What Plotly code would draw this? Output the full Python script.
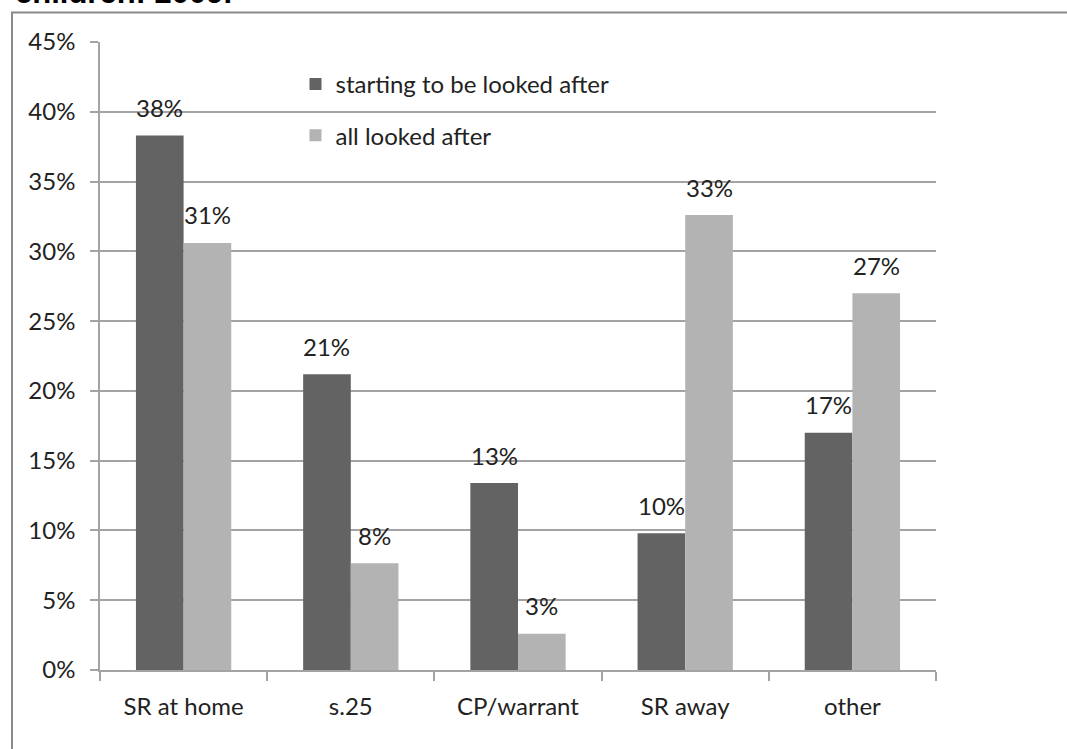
import plotly.graph_objects as go

categories = ["SR at home", "s.25", "CP/warrant", "SR away", "other"]
starting = [38.3, 21.2, 13.4, 9.8, 17.0]
all_looked_after = [30.6, 7.65, 2.6, 32.6, 27.0]
series_names = ["starting to be looked after", "all looked after"]
y_ticks = [0, 5, 10, 15, 20, 25, 30, 35, 40, 45]
title_text = "children: 2009."

DARK = "#636363"
LIGHT = "#b3b3b3"
GRID = "#a3a3a3"
TEXT = "#222222"
FONT = "Lato"
FS = 24

W, H = 1067, 749
L, R, T, B = 100, 131, 42, 79
PW, PH = W - L - R, H - T - B

fig = go.Figure()
fig.add_trace(go.Bar(x=categories, y=starting, name=series_names[0],
                     marker=dict(color=DARK, line=dict(width=0)),
                     legendgroup="a"))
fig.add_trace(go.Bar(x=categories, y=all_looked_after, name=series_names[1],
                     marker=dict(color=LIGHT, line=dict(width=0)),
                     legendgroup="b"))

bargap = 0.43
cat_px = PW / len(categories)
half_bar = cat_px * (1 - bargap) / 4

annotations = []
for vals, sh in ((starting, -half_bar), (all_looked_after, half_bar)):
    for c, v in zip(categories, vals):
        annotations.append(dict(x=c, y=v, xref="x", yref="y", text=f"{round(v)}%",
                                showarrow=False, xshift=sh, yshift=28,
                                yanchor="middle", xanchor="center",
                                font=dict(family=FONT, size=FS, color=TEXT)))

annotations.append(dict(x=(13 - L) / PW, y=(H - B - 12) / PH, xref="paper", yref="paper",
                        text=f"<b>{title_text}</b>", showarrow=False,
                        xanchor="left", yanchor="bottom",
                        font=dict(family="Liberation Sans, Arial", size=31, color="#000000")))

fig.update_layout(
    width=W, height=H,
    margin=dict(l=L, r=R, t=T, b=B),
    paper_bgcolor="white", plot_bgcolor="white",
    barmode="group", bargap=bargap, bargroupgap=0,
    font=dict(family=FONT, size=FS, color=TEXT),
    showlegend=True,
    legend=dict(x=(295.5 - L) / PW, y=(H - B - 62) / PH, xanchor="left", yanchor="top",
                bgcolor="rgba(0,0,0,0)", font=dict(family=FONT, size=FS, color=TEXT),
                tracegroupgap=17, traceorder="grouped"),
    annotations=annotations,
    shapes=[dict(type="rect", xref="paper", yref="paper",
                 x0=(12 - L) / PW, x1=1.3, y0=-0.3, y1=(H - B - 12.5) / PH,
                 line=dict(color="#8a8a8a", width=2), fillcolor="rgba(0,0,0,0)",
                 layer="below")],
)
fig.update_xaxes(showline=True, linecolor=GRID, linewidth=1.5,
                 ticks="outside", tickson="boundaries", ticklen=9, tickcolor=GRID,
                 tickwidth=1.5, showgrid=False,
                 tickfont=dict(family=FONT, size=FS, color=TEXT), ticklabelstandoff=14)
fig.update_yaxes(range=[0, 45], tickvals=y_ticks, ticktext=[f"{t}%" for t in y_ticks],
                 showline=True, linecolor=GRID, linewidth=1.5,
                 ticks="outside", ticklen=8, tickcolor=GRID, tickwidth=1.5,
                 showgrid=True, gridcolor=GRID, gridwidth=1.5, zeroline=False,
                 tickfont=dict(family=FONT, size=FS, color=TEXT), ticklabelstandoff=10)

fig.write_html("out.html")
